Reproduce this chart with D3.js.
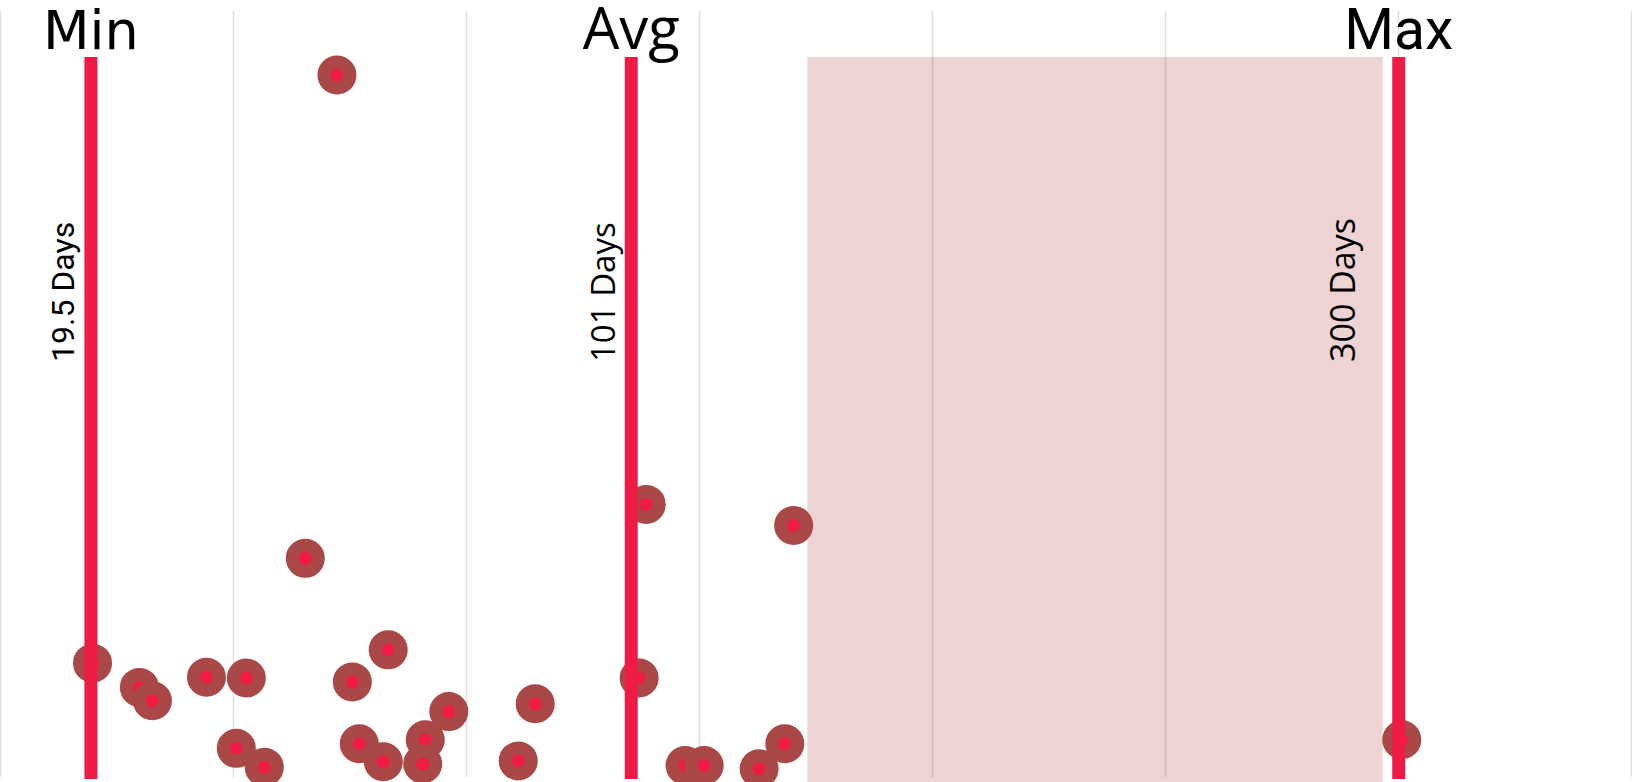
<!DOCTYPE html>
<html>
<head>
<meta charset="utf-8">
<script src="https://cdn.jsdelivr.net/npm/d3@7"></script>
<style>
  html, body { margin: 0; padding: 0; background: #fff; overflow: hidden; }
</style>
</head>
<body>
<div id="chart"></div>
<script>
// grid ticks (x units)
const gridTicks = [0, 1, 2, 3, 4, 5, 6, 7];

// highlighted band (x units)
const band = [3.463, 5.932];

// summary lines
const statNames = ['Min', 'Avg', 'Max'];
const statLabels = ['19.5 Days', '101 Days', '300 Days'];
const statX = [0.388, 2.707, 6.001];

// points
const pointX = [1.444, 1.308, 2.771, 3.404, 0.395, 0.596, 0.652, 0.884, 1.055, 1.510,
                1.664, 2.741, 1.924, 2.295, 1.012, 1.132, 1.540, 1.643, 1.823, 1.812,
                2.222, 2.938, 3.020, 3.256, 3.366, 6.014];
const pointY = [90.4, 28.6, 35.5, 32.8, 15.2, 12.1, 10.4, 13.4, 13.3, 12.8,
                16.9, 13.3, 9.0, 10.0, 4.3, 1.9, 4.9, 2.6, 5.4, 2.3,
                2.7, 2.1, 2.1, 1.7, 4.9, 5.4];

const width = 1632;
const height = 782;

const svg = d3.select('#chart')
    .append('svg')
    .attr('width', width)
    .attr('height', height);

const x = d3.scaleLinear().domain([0, 7]).range([0.5, width - 0.5]);
const y = d3.scaleLinear().domain([0, 100]).range([height, 0]);

const plotTop = 57;

// shaded band
svg.append('rect')
    .attr('x', x(band[0]))
    .attr('y', plotTop)
    .attr('width', x(band[1]) - x(band[0]))
    .attr('height', height - plotTop)
    .attr('fill', '#eed3d5');

// grid lines
svg.selectAll('.grid')
    .data(gridTicks)
    .enter()
    .append('line')
    .attr('class', 'grid')
    .attr('x1', d => x(d))
    .attr('x2', d => x(d))
    .attr('y1', 11)
    .attr('y2', 777)
    .attr('stroke', 'rgba(0,0,0,0.13)')
    .attr('stroke-width', 1.5);

// points
const points = pointX.map((d, i) => ({ x: d, y: pointY[i] }));

svg.selectAll('.dot')
    .data(points)
    .enter()
    .append('circle')
    .attr('class', 'dot')
    .attr('cx', d => x(d.x))
    .attr('cy', d => y(d.y))
    .attr('r', 13)
    .attr('fill', '#ef1a45')
    .attr('stroke', '#a94846')
    .attr('stroke-width', 13);

// stat lines
const stats = statNames.map((d, i) => ({ name: d, label: statLabels[i], x: statX[i] }));

svg.selectAll('.stat')
    .data(stats)
    .enter()
    .append('line')
    .attr('class', 'stat')
    .attr('x1', d => x(d.x))
    .attr('x2', d => x(d.x))
    .attr('y1', plotTop)
    .attr('y2', 779)
    .attr('stroke', '#ef1a45')
    .attr('stroke-width', 13);

// titles on top
const titleFonts = ['DejaVu Sans', 'Open Sans', 'Roboto'];
const titleSizes = [54, 58, 57];

svg.selectAll('.title')
    .data(stats)
    .enter()
    .append('text')
    .attr('class', 'title')
    .attr('x', d => x(d.x))
    .attr('y', 49)
    .attr('text-anchor', 'middle')
    .attr('font-family', (d, i) => titleFonts[i])
    .attr('font-size', (d, i) => titleSizes[i] + 'px')
    .attr('fill', '#000')
    .text(d => d.name);

// rotated day labels
const labelFonts = ['Roboto', 'Open Sans', 'Open Sans'];
const labelSizes = [32, 33, 34];
const labelOffset = [-17, -16, -44];

svg.selectAll('.days')
    .data(stats)
    .enter()
    .append('text')
    .attr('class', 'days')
    .attr('transform', (d, i) => `translate(${x(d.x) + labelOffset[i]},362) rotate(-90)`)
    .attr('font-family', (d, i) => labelFonts[i])
    .attr('font-size', (d, i) => labelSizes[i] + 'px')
    .attr('fill', '#000')
    .text(d => d.label);
</script>
</body>
</html>
